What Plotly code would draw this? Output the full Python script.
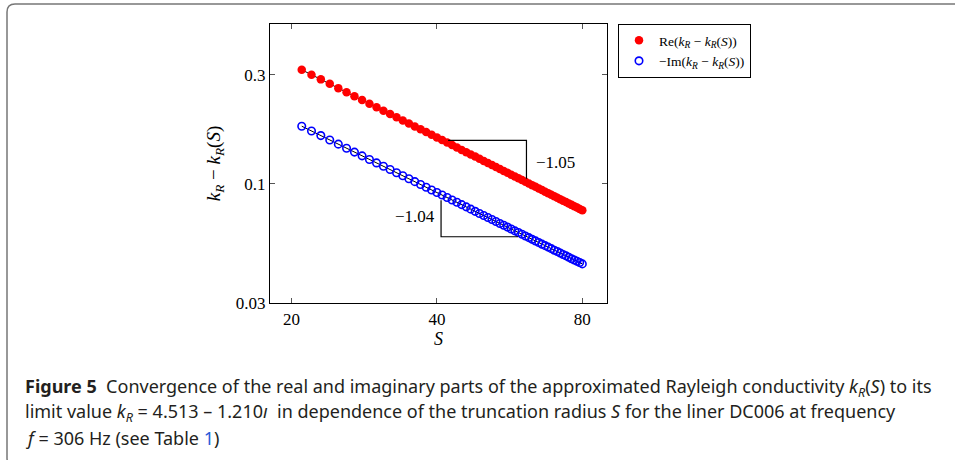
import math
import plotly.graph_objects as go

# truncation radius S and the two error series
S = [21, 22, 23, 24, 25, 26, 27, 28, 29, 30,
     31, 32, 33, 34, 35, 36, 37, 38, 39, 40,
     41, 42, 43, 44, 45, 46, 47, 48, 49, 50,
     51, 52, 53, 54, 55, 56, 57, 58, 59, 60,
     61, 62, 63, 64, 65, 66, 67, 68, 69, 70,
     71, 72, 73, 74, 75, 76, 77, 78, 79, 80]

RE_ERR = [0.3150, 0.2999, 0.2861, 0.2735, 0.2619, 0.2512, 0.2414, 0.2323, 0.2238, 0.2159,
          0.2085, 0.2016, 0.1952, 0.1891, 0.1834, 0.1780, 0.1729, 0.1681, 0.1635, 0.1592,
          0.1551, 0.1512, 0.1475, 0.1439, 0.1405, 0.1373, 0.1342, 0.1313, 0.1284, 0.1257,
          0.1231, 0.1206, 0.1182, 0.1159, 0.1136, 0.1115, 0.1094, 0.1074, 0.1055, 0.1036,
          0.1018, 0.1001, 0.0984, 0.0968, 0.0952, 0.0937, 0.0922, 0.0908, 0.0894, 0.0880,
          0.0867, 0.0854, 0.0842, 0.0830, 0.0818, 0.0807, 0.0796, 0.0785, 0.0774, 0.0764]

IM_ERR = [0.1784, 0.1700, 0.1623, 0.1553, 0.1489, 0.1429, 0.1374, 0.1323, 0.1276, 0.1232,
          0.1191, 0.1152, 0.1116, 0.1082, 0.1050, 0.1020, 0.0991, 0.0964, 0.0938, 0.0914,
          0.0891, 0.0869, 0.0848, 0.0828, 0.0809, 0.0791, 0.0773, 0.0756, 0.0740, 0.0725,
          0.0710, 0.0696, 0.0682, 0.0669, 0.0657, 0.0645, 0.0633, 0.0621, 0.0611, 0.0600,
          0.0590, 0.0580, 0.0570, 0.0561, 0.0552, 0.0543, 0.0535, 0.0527, 0.0519, 0.0511,
          0.0504, 0.0497, 0.0489, 0.0483, 0.0476, 0.0469, 0.0463, 0.0457, 0.0451, 0.0445]

# slope triangles
TRI_RE_S = [42.2, 61.3, 61.3]
TRI_RE_Y = [0.1545, 0.1545, 0.1051]
TRI_IM_S = [40.8, 40.8, 58.9]
TRI_IM_Y = [0.0846, 0.0585, 0.0585]
SLOPE_LABELS = ["\u22121.05", "\u22121.04"]
SLOPE_LABEL_S = [70.4, 36.0]
SLOPE_LABEL_Y = [0.1243, 0.0720]

X_TICKS = [20, 40, 80]
Y_TICKS = [0.03, 0.1, 0.3]

SERIF = "Liberation Serif, Times New Roman, serif"
SANS = "Noto Sans, Open Sans, sans-serif"

# plot frame in pixels
L, R, T, B = 270, 607, 24, 303
W, H = 955, 460


def px(x):
    return (x - L) / (R - L)


def py(y):
    return (B - y) / (B - T)


KR = "<i>k</i><sub><i>R</i></sub>"

fig = go.Figure()

for ys in (RE_ERR, IM_ERR):
    fig.add_trace(go.Scatter(
        x=S, y=ys, mode="lines",
        line=dict(color="black", width=1),
        showlegend=False, hoverinfo="skip",
    ))

fig.add_trace(go.Scatter(
    x=S, y=RE_ERR, mode="markers",
    name=f"Re({KR} \u2212 {KR}(<i>S</i>))",
    marker=dict(color="#ff0000", size=8.5, symbol="circle"),
))
fig.add_trace(go.Scatter(
    x=S, y=IM_ERR, mode="markers",
    name=f"\u2212Im({KR} \u2212 {KR}(<i>S</i>))",
    marker=dict(color="#0000ff", size=7.5, symbol="circle-open", line=dict(width=1.6)),
))

for ts, ty in ((TRI_RE_S, TRI_RE_Y), (TRI_IM_S, TRI_IM_Y)):
    fig.add_trace(go.Scatter(
        x=ts, y=ty, mode="lines",
        line=dict(color="black", width=1.2),
        showlegend=False, hoverinfo="skip",
    ))

annotations = []
# annotations on log axes take log10 positions
for lab, sx, sy in zip(SLOPE_LABELS, SLOPE_LABEL_S, SLOPE_LABEL_Y):
    annotations.append(dict(
        x=math.log10(sx), y=math.log10(sy), xref="x", yref="y", text=lab, showarrow=False,
        font=dict(family=SERIF, size=17, color="black"),
    ))

caption = [
    "<b>Figure 5</b>  Convergence of the real and imaginary parts of the approximated "
    "Rayleigh conductivity <i>k</i><sub><i>R</i></sub>(<i>S</i>) to its",
    "limit value <i>k</i><sub><i>R</i></sub> = 4.513 \u2013 1.210<i>\u0131</i>  in dependence "
    "of the truncation radius <i>S</i> for the liner DC006 at frequency",
    "<i>f</i> = 306 Hz (see Table <span style=\"color:#2a5bd7\">1</span>)",
]
for i, line in enumerate(caption):
    annotations.append(dict(
        x=px(23), y=py(387 + 25.5 * i), xref="paper", yref="paper",
        xanchor="left", yanchor="middle", text=line, showarrow=False,
        font=dict(family=SANS, size=18, color="#231f20"),
    ))

border = (
    f"M {px(1000)} {py(4)} L {px(15)} {py(4)} Q {px(7)} {py(4)} {px(7)} {py(12)} "
    f"L {px(7)} {py(458)} Q {px(7)} {py(466)} {px(15)} {py(466)} L {px(1000)} {py(466)}"
)

_AXIS = dict(
    type="log", showline=True, linecolor="black", linewidth=1.3, mirror="ticks",
    ticks="inside", ticklen=5, tickcolor="#555", showgrid=False, zeroline=False,
    tickfont=dict(family=SERIF, size=17, color="black"),
)

fig.update_layout(
    width=W, height=H,
    paper_bgcolor="white", plot_bgcolor="white",
    margin=dict(l=L, r=W - R, t=T, b=H - B),
    xaxis=dict(
        **_AXIS,
        range=[1.2565, 1.9542],
        tickvals=X_TICKS, ticktext=[str(v) for v in X_TICKS],
        title=dict(text="<i>S</i>", standoff=4,
                   font=dict(family=SERIF, size=18, color="black")),
    ),
    yaxis=dict(
        **_AXIS,
        range=[-1.5229, -0.3010],
        tickvals=Y_TICKS, ticktext=[str(v) for v in Y_TICKS],
        title=dict(text=f"{KR} \u2212 {KR}(<i>S</i>)", standoff=10,
                   font=dict(family=SERIF, size=19, color="black")),
    ),
    legend=dict(
        x=px(618), y=py(24), xanchor="left", yanchor="top",
        bordercolor="black", borderwidth=1, bgcolor="white",
        font=dict(family=SERIF, size=13.5, color="black"),
        itemwidth=30, tracegroupgap=0,
    ),
    annotations=annotations,
    shapes=[dict(type="path", path=border, xref="paper", yref="paper",
                 line=dict(color="#777", width=1.5))],
)

fig.write_html("out.html", config={"displayModeBar": False},
               post_script="document.body.style.margin='0';")
